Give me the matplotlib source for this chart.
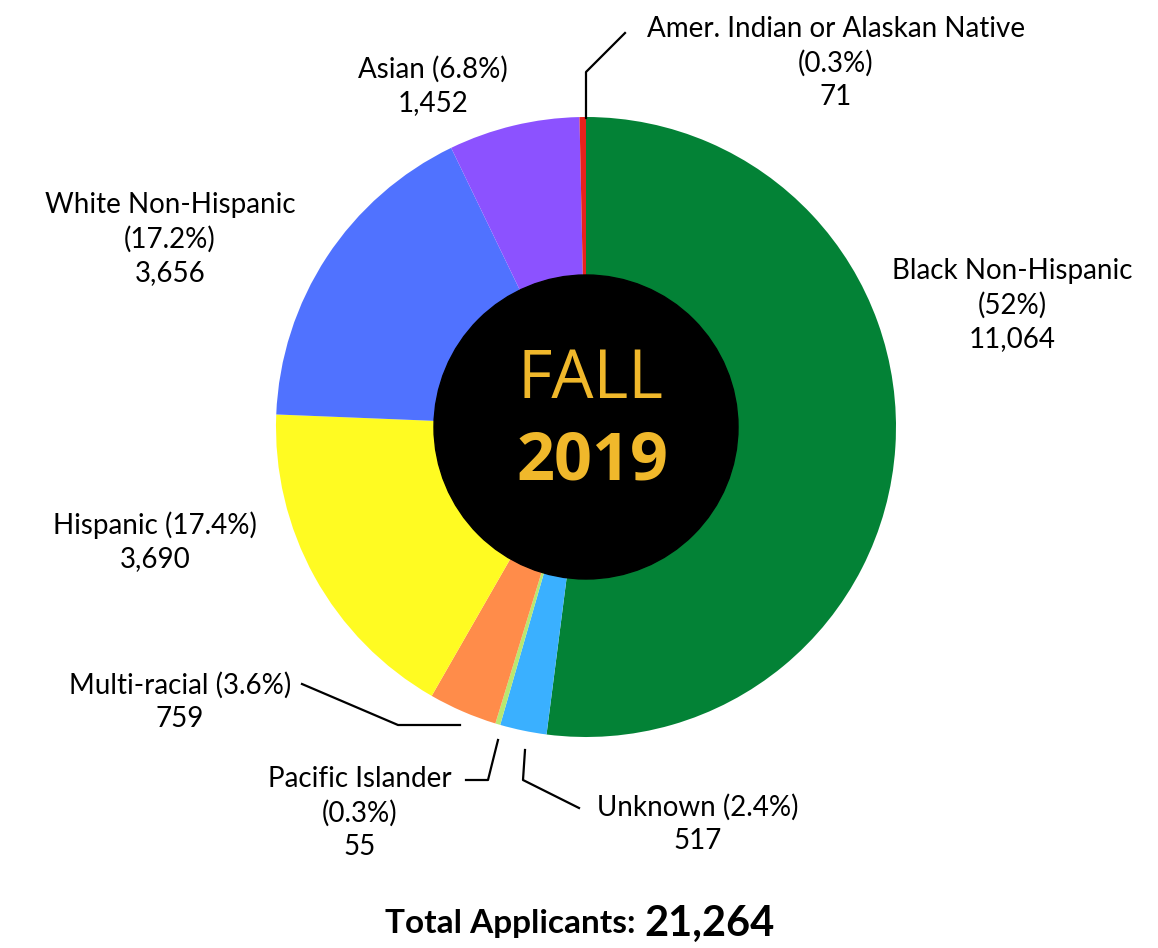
import matplotlib

matplotlib.use("Agg")
import matplotlib.pyplot as plt

plt.rcParams["font.family"] = ["Lato", "DejaVu Sans"]

# slices clockwise from 12 o'clock
groups = ["Black Non-Hispanic", "Unknown", "Pacific Islander", "Multi-racial",
          "Hispanic", "White Non-Hispanic", "Asian", "Amer. Indian or Alaskan Native"]
counts = [11064, 517, 55, 759, 3690, 3656, 1452, 71]
shares = ["52%", "2.4%", "0.3%", "3.6%", "17.4%", "17.2%", "6.8%", "0.3%"]
colors = ["#038236", "#3AB0FF", "#B8E870", "#FF8C4A", "#FFFB22", "#5072FF", "#8C52FF", "#E8221C"]
total = 21264

W, H = 1158, 948
CX, CY, R, R_IN = 586, 427, 310, 152

fig = plt.figure(figsize=(W / 100, H / 100), dpi=100)
ax = fig.add_axes([0, 0, 1, 1])
ax.pie(counts, colors=colors, startangle=90, counterclock=False,
       center=(CX, H - CY), radius=R, wedgeprops=dict(linewidth=0))
ax.add_patch(plt.Circle((CX, H - CY), R_IN, color="black", zorder=3))
ax.set_xlim(0, W); ax.set_ylim(0, H); ax.set_aspect("equal"); ax.axis("off")

gold = "#F0B82B"
ax.text(CX + 4, H - 380, "FALL", color=gold, fontsize=48, ha="center", va="center",
        family=["Open Sans", "DejaVu Sans"], zorder=4)
ax.text(CX + 6, H - 462, "2019", color=gold, fontsize=48, fontweight="bold", ha="center", va="center",
        family=["Open Sans", "DejaVu Sans"], zorder=4)

def y(v):
    return H - v

# label text: (x, y of first line, text)
labels = {
    "Amer. Indian or Alaskan Native": (836, 28, f"{groups[7]}\n({shares[7]})\n{counts[7]:,}"),
    "Asian": (433, 68, f"{groups[6]} ({shares[6]})\n{counts[6]:,}"),
    "White Non-Hispanic": (170, 204, f"{groups[5]}\n({shares[5]})\n{counts[5]:,}"),
    "Black Non-Hispanic": (1012, 270, f"{groups[0]}\n({shares[0]})\n{counts[0]:,}"),
    "Hispanic": (155, 523, f"{groups[4]} ({shares[4]})\n{counts[4]:,}"),
    "Multi-racial": (180, 684, f"{groups[3]} ({shares[3]})\n{counts[3]:,}"),
    "Pacific Islander": (360, 778, f"{groups[2]}\n({shares[2]})\n{counts[2]:,}"),
    "Unknown": (698, 806, f"{groups[1]} ({shares[1]})\n{counts[1]:,}"),
}
for nm, (lx, ly, txt) in labels.items():
    ax.text(lx, y(ly) + 12, txt, ha="center", va="top", fontsize=20, linespacing=1.36)

# leader lines
leaders = [
    [(586, 118), (586, 72), (625, 33)],
    [(302, 684), (398, 725), (460, 725)],
    [(466, 780), (488, 780), (498, 740)],
    [(579, 808), (523, 780), (525, 750)],
]
for pts in leaders:
    ax.plot([p[0] for p in pts], [y(p[1]) for p in pts], color="black", lw=1.6)

ax.text(644, y(924), "Total Applicants: ", ha="right", va="center", fontsize=24, fontweight="bold")
ax.text(644, y(924), f"{total:,}", ha="left", va="center", fontsize=30, fontweight="bold")

fig.savefig("out.png", dpi=100)
